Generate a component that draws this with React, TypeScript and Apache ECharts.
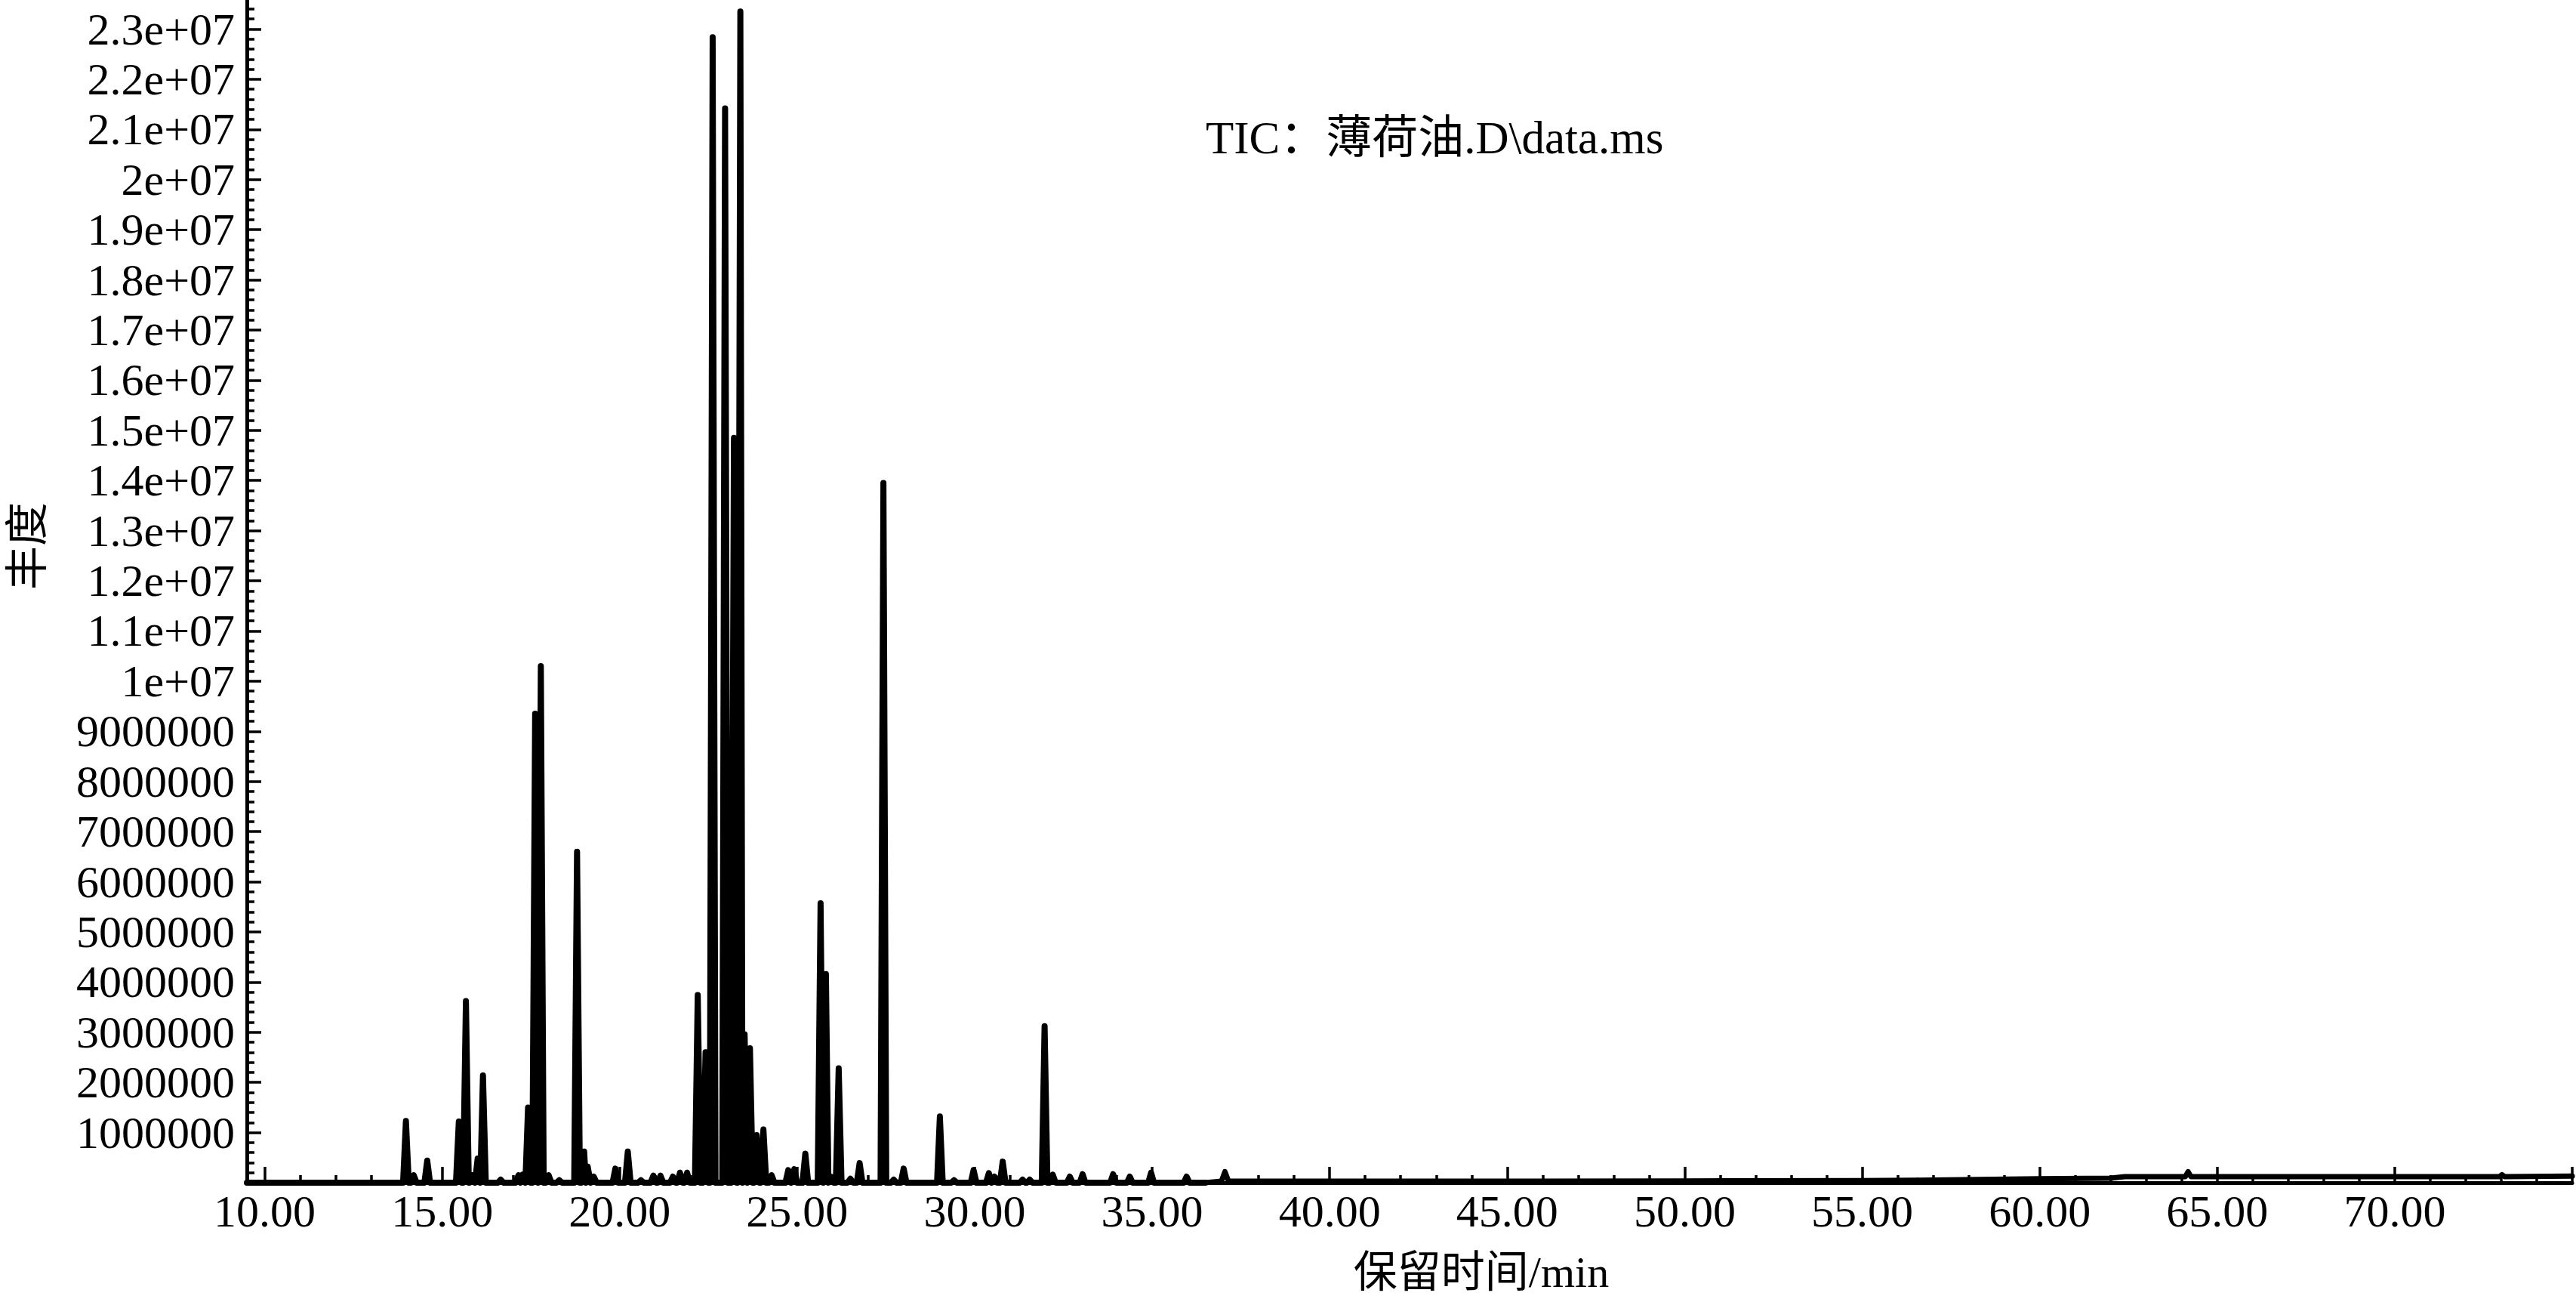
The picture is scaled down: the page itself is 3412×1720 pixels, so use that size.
import React, { useEffect, useRef } from "react";
import * as echarts from "echarts";

// Peak apexes: [retention time (min), abundance]
const peaks: [number, number][] = [
  [13.98, 1230000], [14.2, 150000], [14.58, 440000], [15.47, 1220000], [15.67, 3620000],
  [15.85, 150000], [16.0, 480000], [16.15, 2140000], [16.65, 60000], [17.15, 150000],
  [17.27, 160000], [17.42, 1500000], [17.62, 9350000], [17.78, 10300000], [18.0, 150000],
  [18.3, 50000], [18.8, 6600000], [19.0, 620000], [19.1, 320000], [19.27, 120000],
  [19.88, 280000], [20.23, 620000], [20.6, 50000], [20.95, 140000], [21.15, 140000],
  [21.5, 120000], [21.7, 200000], [21.9, 200000], [22.2, 3740000], [22.42, 2600000],
  [22.62, 22840000], [22.97, 21420000], [23.22, 14850000], [23.4, 23350000], [23.52, 2960000],
  [23.67, 2680000], [23.86, 950000], [24.05, 1060000], [24.28, 150000], [24.75, 250000],
  [24.92, 270000], [25.23, 580000], [25.66, 5570000], [25.81, 4160000], [25.95, 120000],
  [26.17, 2280000], [26.5, 80000], [26.76, 390000], [27.43, 13950000], [27.72, 60000],
  [28.0, 280000], [29.02, 1320000], [29.42, 50000], [29.97, 250000], [30.4, 190000],
  [30.56, 120000], [30.79, 420000], [31.35, 60000], [31.55, 60000], [31.97, 3120000],
  [32.2, 160000], [32.68, 120000], [33.04, 170000], [33.9, 170000], [34.37, 120000],
  [34.97, 200000], [35.97, 120000],
];

// Late part of the trace (slowly rising baseline): [time, abundance]
const baselineTail: [number, number][] = [
  [36.5, 0], [36.95, 30000], [37.05, 220000], [37.15, 30000], [45, 30000], [50, 35000],
  [55, 40000], [56.5, 50000], [60, 80000], [62, 90000], [62.4, 120000], [64.1, 120000],
  [64.18, 220000], [64.26, 120000], [72.95, 120000], [73.02, 160000], [73.1, 120000], [75, 130000],
];

const xMin = 9.5;
const xMax = 75;
const yMax = 23580000;
const xMajorTicks = [10, 15, 20, 25, 30, 35, 40, 45, 50, 55, 60, 65, 70, 75];
const xLabelValues = [10, 15, 20, 25, 30, 35, 40, 45, 50, 55, 60, 65, 70];
const yLabelValues = [
  1000000, 2000000, 3000000, 4000000, 5000000, 6000000, 7000000, 8000000, 9000000,
  10000000, 11000000, 12000000, 13000000, 14000000, 15000000, 16000000, 17000000,
  18000000, 19000000, 20000000, 21000000, 22000000, 23000000,
];
const yMajorTicks = [0, ...yLabelValues];

const titleText = "TIC：薄荷油.D\\data.ms";
const xName = "保留时间/min";
const yName = "丰度";

const FONT = "'Liberation Serif', 'Times New Roman', 'Noto Sans CJK SC', serif";

function buildPeakTrace(): [number, number][] {
  const pts: [number, number][] = [[xMin, 0]];
  const hw = 0.08;
  for (let i = 0; i < peaks.length; i++) {
    const [t, h] = peaks[i];
    const prev = i > 0 ? peaks[i - 1][0] : -Infinity;
    const next = i < peaks.length - 1 ? peaks[i + 1][0] : Infinity;
    const l = Math.max(t - hw, (prev + t) / 2);
    const r = Math.min(t + hw, (t + next) / 2);
    pts.push([l, 0], [t, h], [r, 0]);
  }
  pts.push([36.5, 0]);
  return pts;
}

function yFormatter(v: number): string {
  if (v >= 10000000) {
    const m = Math.round((v / 10000000) * 10) / 10;
    return `${m}e+07`;
  }
  return String(Math.round(v));
}

export default function App() {
  const ref = useRef<HTMLDivElement>(null);

  useEffect(() => {
    document.body.style.margin = "0";
    if (!ref.current) return;
    const chart = echarts.init(ref.current, undefined, { renderer: "svg" });

    const xMinor: number[] = [];
    for (let v = 10; v <= 75; v++) if (v % 5 !== 0) xMinor.push(v);
    const yMinor: number[] = [];
    for (let k = 1; k * 200000 <= yMax; k++) if (k % 5 !== 0) yMinor.push(k * 200000);

    const tickLine = { color: "#000", width: 3.5 };
    const labelStyle = { fontSize: 60, fontFamily: FONT, color: "#000" };

    const option: any = {
      animation: false,
      backgroundColor: "#ffffff",
      grid: { left: 327, right: 5, top: 0, bottom: 154, containLabel: false },
      xAxis: [
        {
          type: "value", min: xMin, max: xMax, position: "bottom",
          axisLine: { show: true, lineStyle: { color: "#000", width: 5 } },
          axisTick: { show: true, inside: true, length: 21, lineStyle: tickLine, customValues: xMajorTicks },
          axisLabel: {
            show: true, customValues: xLabelValues, margin: 8,
            formatter: (v: number) => v.toFixed(2), ...labelStyle,
          },
          splitLine: { show: false },
        },
        {
          type: "value", min: xMin, max: xMax, position: "bottom",
          axisLine: { show: false },
          axisTick: { show: true, inside: true, length: 10, lineStyle: tickLine, customValues: xMinor },
          axisLabel: { show: false },
          splitLine: { show: false },
        },
      ],
      yAxis: [
        {
          type: "value", min: 0, max: yMax, position: "left",
          axisLine: { show: true, lineStyle: { color: "#000", width: 5 } },
          axisTick: { show: true, inside: true, length: 19, lineStyle: tickLine, customValues: yMajorTicks },
          axisLabel: { show: true, customValues: yLabelValues, margin: 16, formatter: yFormatter, ...labelStyle },
          splitLine: { show: false },
        },
        {
          type: "value", min: 0, max: yMax, position: "left",
          axisLine: { show: false },
          axisTick: { show: true, inside: true, length: 10, lineStyle: tickLine, customValues: yMinor },
          axisLabel: { show: false },
          splitLine: { show: false },
        },
      ],
      graphic: [
        {
          type: "text", x: 1597, y: 182,
          style: { text: titleText, fontSize: 61, fontFamily: FONT, fill: "#000", align: "left", verticalAlign: "middle" },
        },
        {
          type: "text", x: 1962, y: 1684,
          style: { text: xName, fontSize: 58, fontFamily: FONT, fill: "#000", align: "center", verticalAlign: "middle" },
        },
        {
          type: "text", x: 36, y: 723, rotation: Math.PI / 2,
          style: { text: yName, fontSize: 58, fontFamily: FONT, fill: "#000", align: "center", verticalAlign: "middle" },
        },
      ],
      series: [
        {
          type: "line", data: buildPeakTrace(), xAxisIndex: 0, yAxisIndex: 0,
          symbol: "none", silent: true,
          lineStyle: { color: "#000", width: 8, join: "round", cap: "round" },
        },
        {
          type: "line", data: baselineTail, xAxisIndex: 0, yAxisIndex: 0,
          symbol: "none", silent: true,
          lineStyle: { color: "#000", width: 7, join: "round", cap: "round" },
        },
      ],
    };

    chart.setOption(option);
    return () => chart.dispose();
  }, []);

  return <div ref={ref} style={{ width: 3412, height: 1720, background: "#fff" }} />;
}
